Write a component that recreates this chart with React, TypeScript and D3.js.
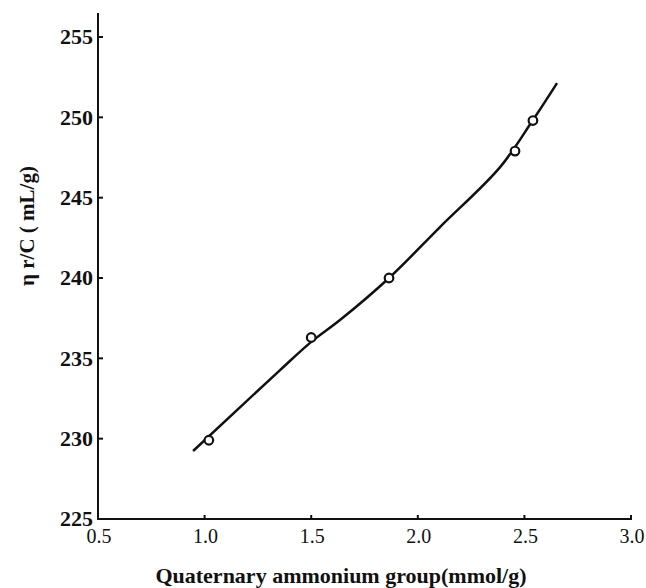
import React from "react";
import * as d3 from "d3";

const xTicks = [0.5, 1.0, 1.5, 2.0, 2.5, 3.0];
const yTicks = [225, 230, 235, 240, 245, 250, 255];
const pointX = [1.02, 1.5, 1.865, 2.456, 2.54];
const pointY = [229.9, 236.3, 240.0, 247.9, 249.8];
const curveX = [0.946, 1.354, 1.499, 1.635, 1.865, 2.104, 2.386, 2.54, 2.653];
const curveY = [229.23, 234.27, 236.01, 237.38, 240.0, 243.17, 246.9, 249.83, 252.13];

const W = 646;
const H = 588;

export default function App() {
  const x = d3.scaleLinear().domain([0.5, 3.0]).range([98, 631]);
  const y = d3.scaleLinear().domain([225, 255]).range([519, 37]);
  const line = d3
    .line<number>()
    .x((_, i) => x(curveX[i]))
    .y((_, i) => y(curveY[i]))
    .curve(d3.curveCatmullRom.alpha(0.5));
  const serif = "'Liberation Serif', 'Times New Roman', serif";
  return (
    <svg
      width={W}
      height={H}
      style={{ position: "absolute", left: 0, top: 0, background: "#fff" }}
      fontFamily={serif}
    >
      <rect x={0} y={0} width={W} height={H} fill="#fff" />
      <line x1={x(0.5)} x2={x(0.5)} y1={13} y2={y(225)} stroke="#111" strokeWidth={2} />
      <line x1={x(0.5) - 1} x2={x(3.0) + 1} y1={y(225)} y2={y(225)} stroke="#111" strokeWidth={2} />
      {yTicks.map((t) => (
        <g key={"y" + t}>
          {t !== 225 && (
            <line x1={x(0.5)} x2={x(0.5) + 5} y1={y(t)} y2={y(t)} stroke="#111" strokeWidth={2} />
          )}
          <text
            x={93}
            y={y(t)}
            dy="0.34em"
            textAnchor="end"
            fontSize={22}
            fontWeight="bold"
            fill="#111"
          >
            {t}
          </text>
        </g>
      ))}
      {xTicks.map((t) => (
        <g key={"x" + t}>
          {t !== 0.5 && (
            <line x1={x(t)} x2={x(t)} y1={y(225)} y2={y(225) - 4} stroke="#111" strokeWidth={2} />
          )}
          <text x={x(t) + 1} y={543} textAnchor="middle" fontSize={20} fill="#111">
            {t.toFixed(1)}
          </text>
        </g>
      ))}
      <path d={line(curveX) || ""} fill="none" stroke="#111" strokeWidth={2.5} />
      {pointX.map((px, i) => (
        <circle
          key={"p" + i}
          cx={x(px)}
          cy={y(pointY[i])}
          r={4.3}
          fill="#fff"
          stroke="#111"
          strokeWidth={2.2}
        />
      ))}
      <text
        x={341}
        y={583}
        textAnchor="middle"
        fontSize={22}
        fontWeight="bold"
        fill="#111"
      >
        Quaternary ammonium group(mmol/g)
      </text>
      <text
        transform={`translate(34, 226) rotate(-90)`}
        textAnchor="middle"
        fontSize={21}
        fontWeight="bold"
        fill="#111"
      >
        η r/C ( mL/g)
      </text>
    </svg>
  );
}
